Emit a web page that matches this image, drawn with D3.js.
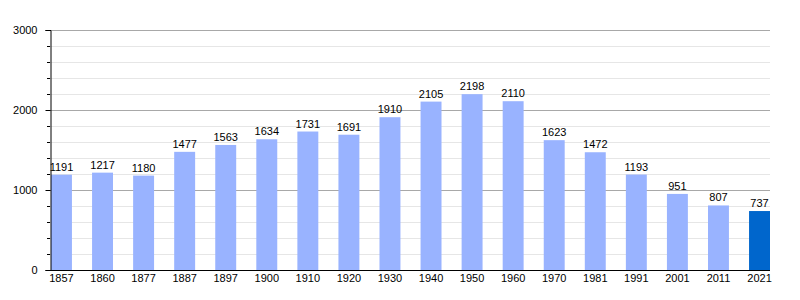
<!DOCTYPE html>
<html>
<head>
<meta charset="utf-8">
<script src="https://cdn.jsdelivr.net/npm/d3@7"></script>
<style>
  body { margin: 0; background: #fff; }
  text { font-family: "Liberation Sans", Arial, sans-serif; font-size: 11px; fill: #000; }
</style>
</head>
<body>
<script>
// Population by census year; the last bar is highlighted.
var years = ['1857', '1860', '1877', '1887', '1897', '1900', '1910', '1920', '1930',
             '1940', '1950', '1960', '1970', '1981', '1991', '2001', '2011', '2021'];
var population = [1191, 1217, 1180, 1477, 1563, 1634, 1731, 1691, 1910,
                  2105, 2198, 2110, 1623, 1472, 1193, 951, 807, 737];
var yTicks = [0, 1000, 2000, 3000];

var width = 800,
    height = 300,
    plot = { left: 50, right: 770, top: 30, bottom: 270 };

var svg = d3.select('body').append('svg')
  .attr('width', width)
  .attr('height', height);

var x = d3.scaleBand()
  .domain(years)
  .range([plot.left + 1, plot.right])
  .paddingInner(0.49)
  .paddingOuter(0);

var y = d3.scaleLinear()
  .domain([0, 3000])
  .range([plot.bottom, plot.top]);

// Minor grid every 200, major every 1000.
var minor = d3.range(200, 3001, 200).filter(function (v) { return v % 1000 !== 0; });

svg.append('g').selectAll('line')
  .data(minor)
  .join('line')
  .attr('x1', plot.left).attr('x2', plot.right)
  .attr('y1', function (d) { return y(d) + 0.5; })
  .attr('y2', function (d) { return y(d) + 0.5; })
  .attr('stroke', '#e6e6e6');

svg.append('g').selectAll('line')
  .data(yTicks.slice(1))
  .join('line')
  .attr('x1', plot.left).attr('x2', plot.right)
  .attr('y1', function (d) { return y(d) + 0.5; })
  .attr('y2', function (d) { return y(d) + 0.5; })
  .attr('stroke', '#a8a8a8');

// Bars
svg.append('g').selectAll('rect')
  .data(population)
  .join('rect')
  .attr('x', function (d, i) { return x(years[i]); })
  .attr('y', function (d) { return y(d); })
  .attr('width', x.bandwidth())
  .attr('height', function (d) { return y(0) - y(d); })
  .attr('fill', function (d, i) { return i === years.length - 1 ? '#0066cc' : '#99b3ff'; });

// Value labels
svg.append('g').selectAll('text')
  .data(population)
  .join('text')
  .attr('x', function (d, i) { return x(years[i]) + x.bandwidth() / 2; })
  .attr('y', function (d) { return y(d) - 4; })
  .attr('text-anchor', 'middle')
  .text(function (d) { return d; });

// Y axis: major ticks with labels, minor ticks without.
svg.append('g').selectAll('line')
  .data(minor)
  .join('line')
  .attr('x1', plot.left - 3).attr('x2', plot.left)
  .attr('y1', function (d) { return y(d) + 0.5; })
  .attr('y2', function (d) { return y(d) + 0.5; })
  .attr('stroke', '#000');

var yAxis = svg.append('g')
  .attr('transform', 'translate(' + (plot.left + 0.5) + ',0)')
  .call(d3.axisLeft(y).tickValues(yTicks).tickSize(5).tickPadding(8).tickFormat(d3.format('d')));
yAxis.select('.domain').attr('stroke', '#000');
yAxis.selectAll('text').style('font-family', '"Liberation Sans", Arial, sans-serif').style('font-size', '11px');

// X axis
var xAxis = svg.append('g')
  .attr('transform', 'translate(0,' + (plot.bottom + 0.5) + ')')
  .call(d3.axisBottom(x).tickSize(0).tickPadding(4));
xAxis.select('.domain').attr('d', 'M' + plot.left + ',0H' + plot.right).attr('stroke', '#000');
xAxis.selectAll('text').style('font-family', '"Liberation Sans", Arial, sans-serif').style('font-size', '11px');
</script>
</body>
</html>
